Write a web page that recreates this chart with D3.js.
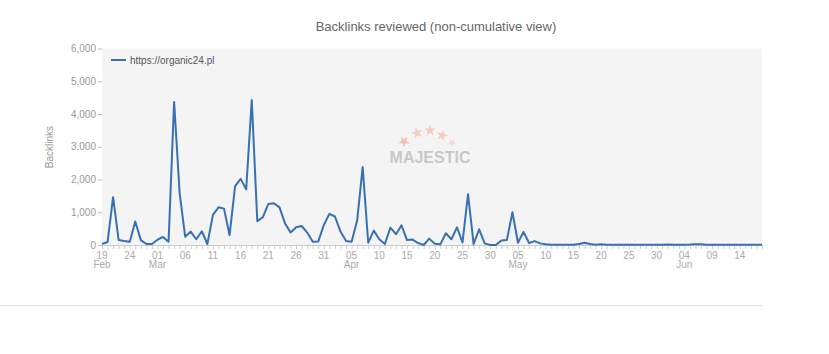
<!DOCTYPE html>
<html>
<head>
<meta charset="utf-8">
<script src="https://cdn.jsdelivr.net/npm/d3@7"></script>
<style>
  html, body { margin: 0; padding: 0; background: #fff; }
  svg { display: block; font-family: "Liberation Sans", Arial, sans-serif; }
</style>
</head>
<body>
<svg id="chart" width="829" height="354"></svg>
<script>
// ---- data ----
const chartTitle = "Backlinks reviewed (non-cumulative view)";
const yAxisTitle = "Backlinks";
const seriesName = "https://organic24.pl";
const startDate = "2021-02-19";
const endDate = "2021-06-18";
const backlinks = [
  30, 90, 1460, 150, 120, 100, 715, 150, 30, 30,
  160, 245, 100, 4370, 1580, 255, 410, 175, 420, 30,
  920, 1150, 1110, 300, 1800, 2020, 1700, 4430, 725, 850,
  1255, 1275, 1150, 660, 380, 540, 580, 380, 100, 110,
  610, 950, 870, 410, 120, 100, 745, 2380, 70, 440,
  175, 30, 530, 330, 600, 150, 165, 60, 0, 195,
  40, 20, 360, 175, 540, 80, 1550, 30, 480, 50,
  0, 0, 140, 150, 1000, 70, 400, 60, 120, 50,
  20, 10, 5, 5, 5, 10, 30, 70, 30, 10,
  20, 10, 5, 5, 5, 5, 10, 10, 5, 5,
  5, 10, 15, 5, 5, 10, 15, 25, 20, 10,
  5, 5, 10, 5, 5, 5, 10, 5, 5, 5
];
const yTicks = [0, 1000, 2000, 3000, 4000, 5000, 6000];
const watermarkText = "MAJESTIC";

// ---- layout ----
const svg = d3.select("#chart");
const plot = { left: 102, right: 762, top: 48.5, bottom: 245 };
const parse = d3.timeParse("%Y-%m-%d");
const t0 = parse(startDate), t1 = parse(endDate);
const dates = d3.timeDay.range(t0, d3.timeDay.offset(t1, 1));
const data = dates.map((d, i) => ({ date: d, value: backlinks[i] }));

const x = d3.scaleTime().domain([t0, t1]).range([plot.left, plot.right]);
const y = d3.scaleLinear().domain([0, 6000]).range([plot.bottom, plot.top]);

// title
svg.append("text")
  .attr("x", 436).attr("y", 30.5)
  .attr("text-anchor", "middle")
  .attr("font-size", 13).attr("fill", "#666")
  .text(chartTitle);

// plot background
svg.append("rect")
  .attr("x", plot.left).attr("y", plot.top)
  .attr("width", plot.right - plot.left).attr("height", plot.bottom - plot.top)
  .attr("fill", "#f4f4f4");

// watermark
const wm = svg.append("g").attr("class", "watermark");
const stars = [
  { x: 404, y: 141.5, r: -35, c: "#f0bfb1" },
  { x: 417, y: 133, r: -15, c: "#f4cdc1" },
  { x: 430, y: 130.5, r: 0, c: "#f4cdc1" },
  { x: 442, y: 135.5, r: 15, c: "#f4cdc1" },
  { x: 452, y: 143, r: 35, c: "#f5d8ce" }
];
wm.selectAll("path").data(stars).join("path")
  .attr("d", (d, i) => d3.symbol(d3.symbolStar, i === 4 ? 22 : 42)())
  .attr("transform", d => `translate(${d.x},${d.y}) rotate(${d.r})`)
  .attr("fill", d => d.c);
wm.append("text")
  .attr("x", 430).attr("y", 162.5)
  .attr("text-anchor", "middle")
  .attr("font-size", 16).attr("font-weight", "bold")
  .attr("fill", "#c8c8c8")
  .text(watermarkText);

// y axis
const fmt = d3.format(",");
const yAxis = svg.append("g")
  .attr("transform", `translate(${plot.left},0)`)
  .call(d3.axisLeft(y).tickValues(yTicks).tickFormat(fmt).tickSize(4).tickPadding(2));
yAxis.select(".domain").remove();
yAxis.selectAll(".tick line").attr("stroke", "#bbb");
yAxis.selectAll(".tick text").attr("fill", "#999").attr("font-size", 10)
  .attr("font-family", "Liberation Sans, Arial, sans-serif");

// y axis title
svg.append("text")
  .attr("transform", "translate(53,147) rotate(-90)")
  .attr("text-anchor", "middle")
  .attr("font-size", 10).attr("fill", "#999")
  .text(yAxisTitle);

// x axis (daily minor ticks, labels every 5 days)
const xAxisG = svg.append("g")
  .attr("transform", `translate(0,${plot.bottom})`)
  .call(d3.axisBottom(x).tickValues(dates).tickSize(4).tickFormat(""));
xAxisG.select(".domain").attr("stroke", "#ccc");
xAxisG.selectAll(".tick line").attr("stroke", "#ccc");

const labelDates = dates.filter((d, i) => i % 5 === 0);
const monthFmt = d3.timeFormat("%b"), dayFmt = d3.timeFormat("%d");
const labels = svg.append("g").attr("font-size", 10).attr("fill", "#aaa").attr("text-anchor", "middle");
labelDates.forEach((d, i) => {
  const g = labels.append("text").attr("x", x(d)).attr("y", 258.5);
  g.append("tspan").attr("x", x(d)).text(dayFmt(d));
  if (i === 0 || d.getMonth() !== labelDates[i - 1].getMonth()) {
    g.append("tspan").attr("x", x(d)).attr("dy", 9.5).text(monthFmt(d));
  }
});

// line
const line = d3.line().x(d => x(d.date)).y(d => y(d.value));
svg.append("path")
  .datum(data)
  .attr("fill", "none")
  .attr("stroke", "#3771b4")
  .attr("stroke-width", 2)
  .attr("stroke-linejoin", "round")
  .attr("d", line);

// legend
svg.append("line")
  .attr("x1", 111).attr("x2", 126).attr("y1", 60).attr("y2", 60)
  .attr("stroke", "#3771b4").attr("stroke-width", 2);
svg.append("text")
  .attr("x", 130).attr("y", 63.5)
  .attr("font-size", 10).attr("fill", "#555")
  .text(seriesName);

// bottom separator
svg.append("line")
  .attr("x1", 0).attr("x2", 763).attr("y1", 305.5).attr("y2", 305.5)
  .attr("stroke", "#e2e2e2").attr("stroke-width", 1);
</script>
</body>
</html>
